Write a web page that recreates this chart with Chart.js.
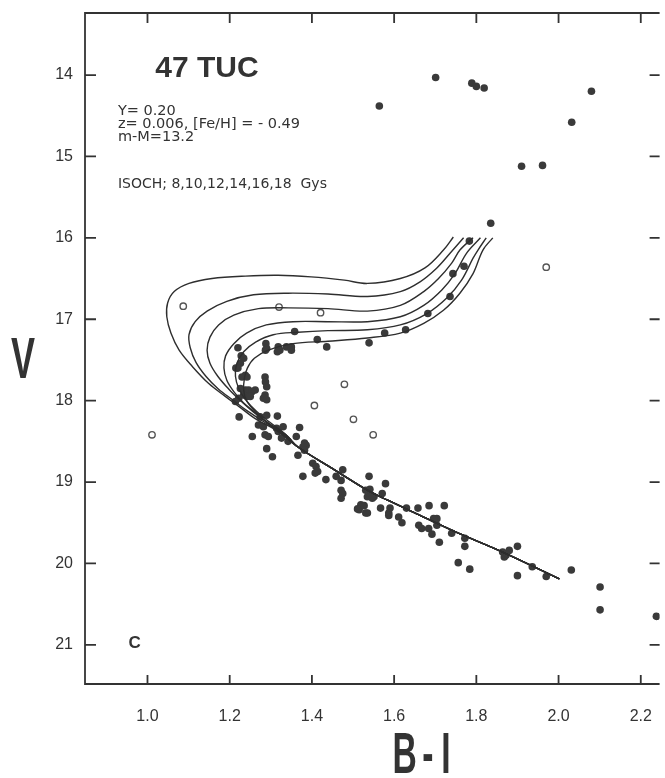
<!doctype html>
<html>
<head>
<meta charset="utf-8">
<title>47 TUC - V vs B-I</title>
<script src="https://cdn.jsdelivr.net/npm/chart.js@4.4.1/dist/chart.umd.min.js"></script>
<style>
  html, body { margin: 0; padding: 0; background: #fff; }
  #wrap { width: 665px; height: 778px; }
</style>
</head>
<body>
<div id="wrap"><canvas id="canvas"></canvas></div>
<script>
const xTicks = [1.0, 1.2, 1.4, 1.6, 1.8, 2.0, 2.2];
const yTicks = [14, 15, 16, 17, 18, 19, 20, 21];

// observed stars [B-I, V]
const filledStars = [
  [1.701,14.03],[1.789,14.10],[1.800,14.14],[1.819,14.16],[1.564,14.38],[2.080,14.20],[2.032,14.58],
  [1.910,15.12],[1.961,15.11],[1.835,15.82],[1.783,16.04],[1.770,16.35],[1.743,16.44],[1.736,16.72],
  [1.682,16.93],[1.628,17.13],[1.577,17.17],[1.539,17.29],[1.358,17.15],[1.413,17.25],[1.436,17.34],
  [1.288,17.30],[1.290,17.36],[1.287,17.38],[1.318,17.34],[1.322,17.38],[1.316,17.40],[1.338,17.34],
  [1.350,17.34],[1.350,17.38],[1.220,17.35],[1.228,17.45],[1.234,17.48],[1.226,17.54],[1.220,17.60],
  [1.215,17.60],[1.238,17.69],[1.230,17.71],[1.242,17.71],[1.226,17.85],[1.238,17.87],[1.246,17.87],
  [1.254,17.89],[1.262,17.87],[1.234,17.93],[1.242,17.95],[1.250,17.95],[1.222,17.97],[1.214,18.01],
  [1.286,17.71],[1.287,17.77],[1.290,17.83],[1.286,17.93],[1.282,17.97],[1.290,17.99],[1.223,18.20],
  [1.274,18.20],[1.290,18.18],[1.316,18.19],[1.270,18.30],[1.282,18.32],[1.314,18.34],[1.330,18.32],
  [1.370,18.33],[1.255,18.44],[1.286,18.42],[1.294,18.44],[1.318,18.38],[1.326,18.46],[1.342,18.50],
  [1.362,18.44],[1.290,18.59],[1.304,18.69],[1.378,18.57],[1.386,18.55],[1.366,18.67],[1.382,18.52],
  [1.382,18.61],[1.402,18.77],[1.410,18.81],[1.414,18.87],[1.408,18.89],[1.378,18.93],[1.434,18.97],
  [1.459,18.93],[1.475,18.85],[1.471,18.98],[1.539,18.93],[1.579,19.02],[1.541,19.09],[1.551,19.18],
  [1.571,19.14],[1.471,19.10],[1.475,19.14],[1.471,19.20],[1.531,19.10],[1.543,19.16],[1.535,19.18],
  [1.547,19.20],[1.519,19.28],[1.515,19.34],[1.511,19.33],[1.527,19.29],[1.531,19.38],[1.567,19.32],
  [1.590,19.32],[1.630,19.32],[1.658,19.32],[1.685,19.29],[1.722,19.29],[1.535,19.38],[1.587,19.38],
  [1.587,19.41],[1.611,19.43],[1.619,19.50],[1.660,19.53],[1.667,19.57],[1.684,19.57],[1.692,19.64],
  [1.704,19.53],[1.704,19.45],[1.696,19.45],[1.710,19.74],[1.740,19.63],[1.772,19.69],[1.772,19.79],
  [1.756,19.99],[1.784,20.07],[1.864,19.86],[1.872,19.90],[1.880,19.84],[1.868,19.92],[1.900,19.79],
  [1.936,20.04],[1.900,20.15],[1.970,20.16],[2.031,20.08],[2.101,20.29],[2.101,20.57],[2.238,20.65]
];
const openStars = [
  [1.087,16.84],[1.320,16.85],[1.421,16.92],[1.970,16.36],[1.479,17.80],
  [1.406,18.06],[1.501,18.23],[1.549,18.42],[1.011,18.42]
];

// isochrones, top of the giant branch down to the turnoff
const iso8 = [
  [1.744,15.99],[1.720,16.15],[1.675,16.37],[1.615,16.50],[1.535,16.56],[1.479,16.52],[1.398,16.48],
  [1.318,16.46],[1.238,16.47],[1.157,16.50],[1.101,16.56],[1.065,16.66],[1.049,16.80],[1.047,16.97],
  [1.057,17.17],[1.077,17.38],[1.109,17.58],[1.149,17.79],[1.190,17.95],[1.222,18.07],[1.262,18.22],
  [1.318,18.38]
];
const iso10 = [
  [1.769,16.00],[1.736,16.19],[1.704,16.37],[1.663,16.54],[1.615,16.66],[1.535,16.72],[1.439,16.69],
  [1.342,16.68],[1.258,16.70],[1.193,16.78],[1.145,16.90],[1.116,17.03],[1.101,17.19],[1.104,17.35],
  [1.118,17.53],[1.142,17.70],[1.173,17.86],[1.207,17.99],[1.241,18.12],[1.280,18.25],[1.323,18.39]
];
const iso12 = [
  [1.792,16.00],[1.760,16.15],[1.740,16.31],[1.708,16.50],[1.672,16.66],[1.615,16.83],[1.535,16.90],
  [1.439,16.87],[1.342,16.86],[1.270,16.87],[1.210,16.95],[1.173,17.07],[1.152,17.22],[1.145,17.38],
  [1.152,17.54],[1.171,17.70],[1.198,17.86],[1.224,17.99],[1.253,18.12],[1.287,18.25],[1.328,18.40]
];
const iso14 = [
  [1.810,16.00],[1.776,16.19],[1.748,16.44],[1.716,16.64],[1.672,16.83],[1.615,16.97],[1.535,17.03],
  [1.439,17.03],[1.354,17.03],[1.289,17.07],[1.241,17.17],[1.210,17.30],[1.190,17.45],[1.186,17.60],
  [1.193,17.75],[1.210,17.89],[1.234,18.03],[1.263,18.15],[1.294,18.28],[1.333,18.41]
];
const iso16 = [
  [1.824,16.00],[1.804,16.15],[1.792,16.25],[1.764,16.52],[1.728,16.74],[1.680,16.93],[1.615,17.07],
  [1.535,17.13],[1.439,17.14],[1.366,17.16],[1.306,17.19],[1.263,17.28],[1.234,17.40],[1.217,17.55],
  [1.214,17.70],[1.222,17.85],[1.239,17.99],[1.265,18.13],[1.296,18.26],[1.335,18.41]
];
const iso18 = [
  [1.840,16.00],[1.816,16.15],[1.792,16.44],[1.760,16.68],[1.720,16.89],[1.672,17.05],[1.615,17.17],
  [1.535,17.23],[1.439,17.27],[1.354,17.30],[1.294,17.38],[1.260,17.48],[1.243,17.60],[1.236,17.72],
  [1.234,17.87],[1.241,18.00],[1.263,18.14],[1.294,18.28],[1.337,18.42]
];
// common lower main sequence
const mainSequence = [
  [1.366,18.57],[1.455,18.85],[1.535,19.10],[1.583,19.22],[1.655,19.39],[1.744,19.60],[1.864,19.86],[2.002,20.19]
];

const infoLines = ['Y= 0.20', 'z= 0.006, [Fe/H] = - 0.49', 'm-M=13.2'];
const isoLabel = 'ISOCH; 8,10,12,14,16,18  Gys';

const pts = a => a.map(p => ({ x: p[0], y: p[1] }));

const isoSets = [iso8, iso10, iso12, iso14, iso16, iso18].map((iso, i) => ({
  label: 'iso' + i,
  data: pts(iso.concat(mainSequence)),
  showLine: true,
  borderColor: '#2e2e2e',
  borderWidth: 1.4,
  pointRadius: 0,
  tension: 0.35,
  fill: false
}));

const ink = '#333';

const framePlugin = {
  id: 'frame',
  afterDraw(chart) {
    const { ctx, chartArea: a } = chart;
    const x = chart.scales.x, y = chart.scales.y;
    ctx.save();
    ctx.strokeStyle = ink;
    ctx.lineWidth = 1.8;
    ctx.beginPath();
    ctx.moveTo(a.right, a.top);
    ctx.lineTo(a.left, a.top);
    ctx.lineTo(a.left, a.bottom);
    ctx.lineTo(a.right, a.bottom);
    xTicks.forEach(v => {
      const p = x.getPixelForValue(v);
      ctx.moveTo(p, a.bottom); ctx.lineTo(p, a.bottom - 9);
      ctx.moveTo(p, a.top); ctx.lineTo(p, a.top + 10);
    });
    yTicks.forEach(v => {
      const p = y.getPixelForValue(v);
      ctx.moveTo(a.left, p); ctx.lineTo(a.left + 11, p);
      ctx.moveTo(a.right, p); ctx.lineTo(a.right - 10, p);
    });
    ctx.stroke();

    ctx.fillStyle = ink;
    ctx.textBaseline = 'alphabetic';
    ctx.textAlign = 'left';
    ctx.font = 'bold 30px "Liberation Sans"';
    ctx.fillText('47 TUC', x.getPixelForValue(1.019), y.getPixelForValue(14.02));
    ctx.font = '14.5px "DejaVu Sans"';
    [14.49, 14.65, 14.81].forEach((v, i) => {
      ctx.fillText(infoLines[i], x.getPixelForValue(0.928), y.getPixelForValue(v));
    });
    ctx.font = '14px "DejaVu Sans"';
    ctx.fillText(isoLabel, x.getPixelForValue(0.928), y.getPixelForValue(15.39));
    ctx.font = 'bold 17px "Liberation Sans"';
    ctx.fillText('C', x.getPixelForValue(0.954), y.getPixelForValue(21.04));

    // axis titles, condensed bold
    ctx.font = 'bold 58px "Liberation Sans"';
    ctx.textAlign = 'center';
    ctx.save();
    ctx.translate(23, 378);
    ctx.scale(0.62, 1);
    ctx.fillText('V', 0, 0);
    ctx.restore();
    ctx.save();
    ctx.translate(x.getPixelForValue(1.682), 773);
    ctx.scale(0.58, 1);
    ctx.fillText('B', -40, 0);
    ctx.fillText('-', 0, 0);
    ctx.fillText('I', 31, 0);
    ctx.restore();
    ctx.restore();
  }
};

const config = {
  type: 'scatter',
  data: {
    datasets: isoSets.concat([
      {
        label: 'stars',
        data: pts(filledStars),
        backgroundColor: '#3a3a3a',
        borderColor: '#3a3a3a',
        borderWidth: 0,
        pointRadius: 3.8
      },
      {
        label: 'open',
        data: pts(openStars),
        backgroundColor: '#fff',
        borderColor: '#555',
        borderWidth: 1.4,
        pointRadius: 3.2
      }
    ])
  },
  options: {
    responsive: true,
    maintainAspectRatio: false,
    animation: false,
    layout: { padding: { top: 13, right: 0, bottom: 0, left: 0 } },
    plugins: { legend: { display: false }, tooltip: { enabled: false } },
    scales: {
      x: {
        type: 'linear',
        min: 0.848,
        max: 2.2458,
        grid: { display: false, drawTicks: false, tickLength: 0 },
        border: { display: false },
        afterBuildTicks: s => { s.ticks = xTicks.map(v => ({ value: v })); },
        afterFit: s => { s.height = 94; s.paddingLeft = 0; s.paddingRight = 0; },
        ticks: {
          padding: 23,
          color: ink,
          font: { family: '"Liberation Sans"', size: 16 },
          callback: v => v.toFixed(1)
        }
      },
      y: {
        type: 'linear',
        reverse: true,
        min: 13.238,
        max: 21.481,
        grid: { display: false, drawTicks: false, tickLength: 0 },
        border: { display: false },
        afterBuildTicks: s => { s.ticks = yTicks.map(v => ({ value: v })); },
        afterFit: s => { s.width = 85; s.paddingTop = 0; s.paddingBottom = 0; },
        ticks: {
          padding: 12,
          color: ink,
          font: { family: '"Liberation Sans"', size: 16 },
          callback: v => String(v)
        }
      }
    }
  },
  plugins: [framePlugin]
};

window.onload = function() {
  const ctx = document.getElementById('canvas').getContext('2d');
  window.myChart = new Chart(ctx, config);
};
</script>
</body>
</html>
